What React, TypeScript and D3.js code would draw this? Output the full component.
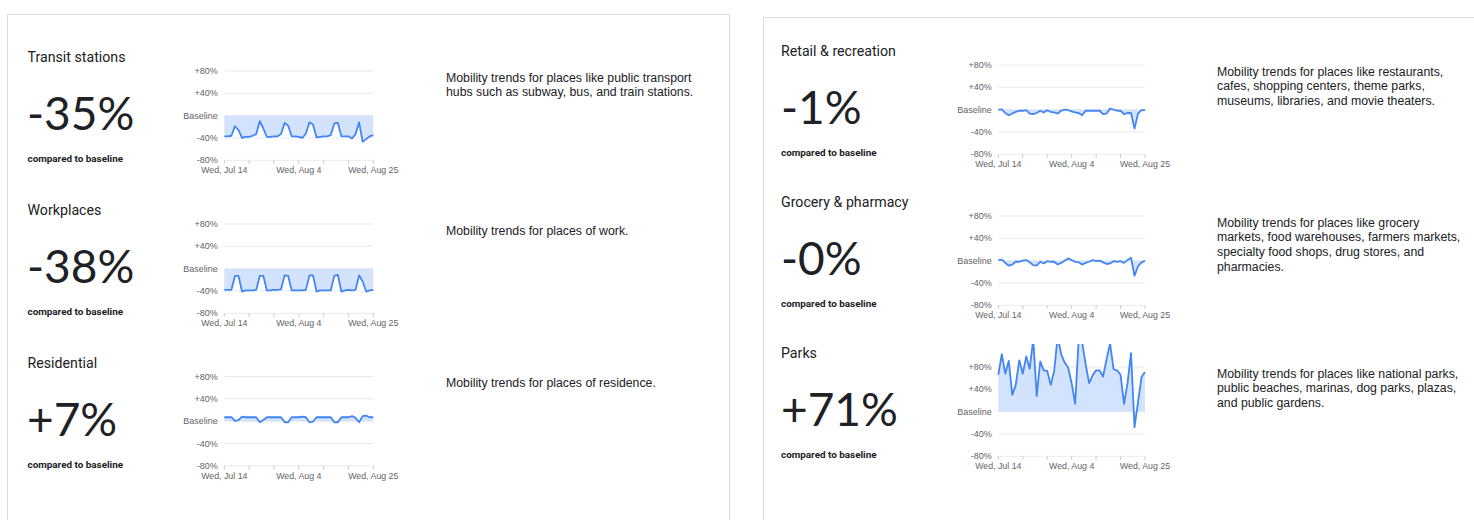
import React from "react";
import * as d3 from "d3";

// ---- data ----
const startDate = "2021-07-14";
const endDate = "2021-08-25";
const yTickValues = [80, 40, 0, -40, -80];
const yTickLabels = ["+80%", "+40%", "Baseline", "-40%", "-80%"];

const categories = [
  "Transit stations",
  "Workplaces",
  "Residential",
  "Retail & recreation",
  "Grocery & pharmacy",
  "Parks",
];
const headlines = ["-35%", "-38%", "+7%", "-1%", "-0%", "+71%"];
const descriptions = [
  ["Mobility trends for places like public transport", "hubs such as subway, bus, and train stations."],
  ["Mobility trends for places of work."],
  ["Mobility trends for places of residence."],
  ["Mobility trends for places like restaurants,", "cafes, shopping centers, theme parks,", "museums, libraries, and movie theaters."],
  ["Mobility trends for places like grocery", "markets, food warehouses, farmers markets,", "specialty food shops, drug stores, and", "pharmacies."],
  ["Mobility trends for places like national parks,", "public beaches, marinas, dog parks, plazas,", "and public gardens."],
];

const transit = [-37, -37, -36, -19, -26, -40, -38, -38, -36, -33, -10, -23, -38, -38, -37, -37, -33, -13, -18, -37, -37, -38, -40, -32, -12, -16, -39, -38, -37, -37, -35, -14, -13, -37, -37, -37, -41, -33, -12, -47, -42, -37, -35];
const workplaces = [-38, -38, -38, -13, -13, -41, -39, -39, -39, -38, -13, -13, -39, -39, -38, -38, -37, -12, -13, -39, -39, -39, -39, -38, -12, -12, -41, -39, -39, -39, -39, -13, -11, -41, -39, -38, -39, -38, -12, -23, -41, -39, -38];
const residential = [7, 7, 7, 0.5, 2, 8, 7, 7, 7, 7, -2, 2, 7, 7, 7, 7, 7, -2, -2, 7, 7, 7, 8, 7, -2, -1, 7, 7, 7, 7, 7, -2, -2, 7, 7, 7, 9, 6, -2, 9, 10, 7, 7];
const retail = [-0.6, 0.6, -6, -10, -7, -4, -2, -2, -1, -7, -8, -6, -2, -5, -1, -4, -5, -7, -2, 0, -1, -3, -5, -6, -10, -2, -2, -2, -2, -2, -8, -7, 2, 0, -2, -2, -8, -6, -6, -34, -7, -1, -1];
const grocery = [0.6, 2, -4, -9, -7, -2, -2, 0, 1, -3, -8, -9, -2, -5, -1, -2, -2, -7, -4, 0, 4, 1, -2, -3, -7, -4, -2, 1, -1, 0, -3, -6, -5, -1, -2, -1, -4, 1, 5, -27, -10, -3, -0.4];
const parks = [66, 103, 68, 91, 30, 48, 92, 68, 99, 77, 130, 28, 90, 74, 73, 48, 73, 135, 103, 88, 79, 51, 14, 128, 125, 85, 51, 65, 74, 74, 63, 94, 122, 76, 74, 66, 14, 51, 105, -28, 17, 62, 71];

const seriesList = [transit, workplaces, residential, retail, grocery, parks];

// ---- layout ----
const leftRowBaselines = [62, 215, 367.5];
const rightRowBaselines = [56, 207, 358];
const leftCol = { title: 27.5, number: 27, plot: [224.3, 373.3], desc: 446 };
const rightCol = { title: 781, number: 781, plot: [998.3, 1145], desc: 1217 };

const BLUE = "#4285f4";
const FILL = "#d3e3fd";
const TEXT = "#202124";
const AXIS = "#5f6368";
const GRID = "#e8eaed";
const TITLE_FONT = "Roboto, 'Noto Sans', sans-serif";
const BIG_FONT = "Lato, 'Open Sans', Roboto, sans-serif";
const SANS = "'Liberation Sans', Arial, sans-serif";

const parseDate = d3.timeParse("%Y-%m-%d");
const fmt = d3.timeFormat("%a, %b %-d");

function MiniChart({ values, x0, x1, yTop, idx }: { values: number[]; x0: number; x1: number; yTop: number; idx: number }) {
  const start = parseDate(startDate) as Date;
  const end = parseDate(endDate) as Date;
  const dates = values.map((_, i) => d3.timeDay.offset(start, i));
  const x = d3.scaleTime().domain([start, end]).range([x0, x1]);
  const y = d3.scaleLinear().domain([80, -80]).range([yTop, yTop + 89.3]);
  const ticks = d3.timeDay.range(start, d3.timeDay.offset(end, 1), 7);
  const area = d3
    .area<number>()
    .x((_, i) => x(dates[i]))
    .y0(y(0))
    .y1((d) => y(d));
  const line = d3
    .line<number>()
    .x((_, i) => x(dates[i]))
    .y((d) => y(d));
  const clipId = `clip-${idx}`;
  return (
    <g>
      <defs>
        <clipPath id={clipId}>
          <rect x={x0 - 2} y={y(121)} width={x1 - x0 + 4} height={y(-120) - y(121)} />
        </clipPath>
      </defs>
      {yTickValues.map((v, i) => (
        <g key={v}>
          <line x1={x0} x2={x1} y1={y(v)} y2={y(v)} stroke={GRID} strokeWidth={1} />
          <text x={x0 - 6.5} y={y(v)} dy="0.34em" textAnchor="end" fontSize={9} fill={AXIS} fontFamily={SANS}>
            {yTickLabels[i]}
          </text>
        </g>
      ))}
      {ticks.map((t, i) => (
        <g key={i}>
          <line x1={x(t)} x2={x(t)} y1={y(-80)} y2={y(-80) + 3.5} stroke="#c8c8c8" strokeWidth={1} />
          {i % 3 === 0 && (
            <text x={x(t)} y={y(-80) + 13} textAnchor="middle" fontSize={8.8} fill={AXIS} fontFamily={SANS}>
              {fmt(t)}
            </text>
          )}
        </g>
      ))}
      <g clipPath={`url(#${clipId})`}>
        <path d={area(values) || ""} fill={FILL} />
        <path d={line(values) || ""} fill="none" stroke={BLUE} strokeWidth={1.8} strokeLinejoin="round" />
      </g>
    </g>
  );
}

function Row({ idx }: { idx: number }) {
  const isLeft = idx < 3;
  const col = isLeft ? leftCol : rightCol;
  const base = isLeft ? leftRowBaselines[idx] : rightRowBaselines[idx - 3];
  return (
    <g>
      <text x={col.title} y={base} fontSize={14.2} fill={TEXT} fontFamily={TITLE_FONT}>
        {categories[idx]}
      </text>
      <text x={col.number} y={base + 68} fontSize={46} fontWeight={400} fill={TEXT} fontFamily={BIG_FONT}>
        {headlines[idx]}
      </text>
      <text x={col.title} y={base + 100.3} fontSize={9.9} fontWeight={700} fill={TEXT} fontFamily={TITLE_FONT}>
        compared to baseline
      </text>
      {descriptions[idx].map((l, j) => (
        <text key={j} x={col.desc} y={base + 19.5 + j * 14.7} fontSize={12.3} fill={TEXT} fontFamily={SANS}>
          {l}
        </text>
      ))}
      <MiniChart values={seriesList[idx]} x0={col.plot[0]} x1={col.plot[1]} yTop={base + 9} idx={idx} />
    </g>
  );
}

export default function App() {
  return (
    <svg width={1474} height={520} style={{ position: "absolute", left: 0, top: 0, background: "#fff" }}>
      <rect x={7.5} y={14.5} width={722} height={520} fill="none" stroke="#dadce0" strokeWidth={1} />
      <rect x={763.5} y={17.5} width={720} height={520} fill="none" stroke="#dadce0" strokeWidth={1} />
      {categories.map((_, i) => (
        <Row key={i} idx={i} />
      ))}
    </svg>
  );
}
